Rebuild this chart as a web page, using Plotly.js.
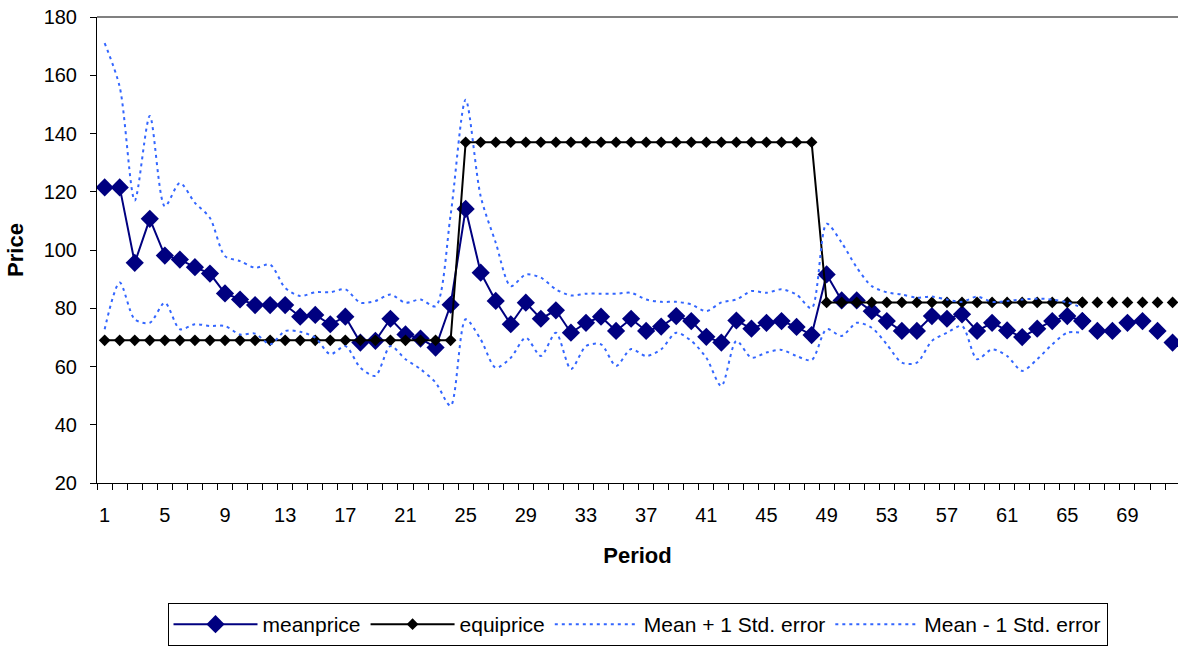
<!DOCTYPE html>
<html>
<head>
<meta charset="utf-8">
<script src="https://cdn.plot.ly/plotly-3.0.1.min.js"></script>
<style>
  html, body { margin: 0; padding: 0; background: #fff; }
  #chart { width: 1178px; height: 646px; }
</style>
</head>
<body>
<div id="chart"></div>
<script>
// Period numbers
const periods = [1,2,3,4,5,6,7,8,9,10,11,12,13,14,15,16,17,18,19,20,21,22,23,24,
  25,26,27,28,29,30,31,32,33,34,35,36,37,38,39,40,41,42,43,44,45,46,47,48,
  49,50,51,52,53,54,55,56,57,58,59,60,61,62,63,64,65,66,67,68,69,70,71,72];

// Mean market price per period
const meanprice = [121.5,121.5,95.6,110.7,98.1,96.7,94.1,91.9,85.1,83,
  81.1,81.1,81.1,77.1,77.7,74.5,77.1,68.2,68.8,76.4,
  71,69.6,66.5,81.2,114.1,92.2,82.5,74.5,81.9,76.4,
  79.3,71.6,75,77.1,72.2,76.4,72.2,73.7,77.3,75.6,
  70.2,68.2,75.8,73,75,75.6,73.6,70.8,91.6,82.7,
  82.7,79,75.6,72.2,72.2,77.3,76.4,77.9,72.2,75,
  72.4,70.1,73,75.6,77.3,75.6,72.2,72.2,75,75.6,
  72.2,68.2];

// Equilibrium price per period
const equiprice = [69,69,69,69,69,69,69,69,69,69,69,69,69,69,69,69,69,69,69,69,69,69,69,69,
  137,137,137,137,137,137,137,137,137,137,137,137,137,137,137,137,137,137,137,137,137,137,137,137,
  82,82,82,82,82,82,82,82,82,82,82,82,82,82,82,82,82,82,82,82,82,82,82,82];

// Mean + 1 standard error (periods 1-66)
const upperSE = [171,156,117,146,115,123,116.2,111,97.9,96.2,
  93.9,95,87,84.2,85.5,85.5,86.5,81.9,82.5,84.7,
  81.9,83,80.7,112,151.6,118.4,102.5,87.6,91.6,90.5,
  86.5,84.4,85,85,85,85.3,83,82.2,82.2,81.3,
  79,82,83,85.9,85.3,86.5,84.7,80,109,102.5,
  94,87.6,85.5,84.7,83.6,84,83,82.2,84,82.2,
  82.5,83,83.3,83,82,80.2];

// Mean - 1 standard error (periods 1-66)
const lowerSE = [72.8,88.8,76.2,75,81.9,72.8,74.5,73.9,73.9,71,
  71.3,67.6,72.2,71.9,69.9,64.2,67,59.6,56.8,67,
  62.5,59.1,54.5,46.5,76.2,69.3,59.6,63,69.9,63.6,
  71.6,59.1,67,67.6,60.2,66,63.6,65.9,71.6,68.8,
  63,53.3,68.8,63,64.8,65.7,63.6,62.2,72.8,70.5,
  75,73.3,67.6,61.3,61.3,68.8,71.6,73.9,62.5,65.9,
  63.6,58.5,62.5,67.6,71.6,71.6];

// Connected lines run through period 66; later periods are markers only
const nLine = 66;
const xLine = periods.slice(0, nLine);
const xTail = periods.slice(nLine - 1);

const yTickVals = [20,40,60,80,100,120,140,160,180];
const xTickVals = [1,5,9,13,17,21,25,29,33,37,41,45,49,53,57,61,65,69];

const navy = '#000080';
const blue = '#3366FF';
const font = 'Liberation Sans, Arial, sans-serif';

const traces = [
  {
    name: 'meanprice', x: xLine, y: meanprice.slice(0, nLine),
    mode: 'lines+markers', type: 'scatter',
    line: {color: navy, width: 2},
    marker: {symbol: 'diamond', size: 14, color: navy}
  },
  {
    name: 'equiprice', x: xLine, y: equiprice.slice(0, nLine),
    mode: 'lines+markers', type: 'scatter',
    line: {color: '#000000', width: 2},
    marker: {symbol: 'diamond', size: 9, color: '#000000'}
  },
  {
    name: 'Mean + 1 Std. error', x: xLine, y: upperSE,
    mode: 'lines', type: 'scatter',
    line: {color: blue, width: 2, dash: '3px,4px', shape: 'spline', smoothing: 0.8}
  },
  {
    name: 'Mean - 1 Std. error', x: xLine, y: lowerSE,
    mode: 'lines', type: 'scatter',
    line: {color: blue, width: 2, dash: '3px,4px', shape: 'spline', smoothing: 0.8}
  },
  {
    name: 'meanprice', x: xTail, y: meanprice.slice(nLine - 1),
    mode: 'markers', type: 'scatter', showlegend: false,
    marker: {symbol: 'diamond', size: 14, color: navy}
  },
  {
    name: 'equiprice', x: xTail, y: equiprice.slice(nLine - 1),
    mode: 'markers', type: 'scatter', showlegend: false,
    marker: {symbol: 'diamond', size: 9, color: '#000000'}
  }
];

const layout = {
  width: 1178, height: 646,
  margin: {l: 97, r: 0, t: 17, b: 162},
  paper_bgcolor: '#ffffff', plot_bgcolor: '#ffffff',
  font: {family: font, size: 20, color: '#000000'},
  showlegend: true,
  legend: {
    orientation: 'h', x: 0.5, xanchor: 'center', y: -0.257, yanchor: 'top',
    bordercolor: '#000000', borderwidth: 1, bgcolor: '#ffffff',
    font: {family: font, size: 21}, traceorder: 'normal', itemwidth: 84
  },
  xaxis: {
    range: [0.49, 72.36], tickvals: xTickVals, ticktext: xTickVals.map(String),
    ticks: '', showgrid: false, zeroline: false,
    showline: true, linecolor: '#000000', linewidth: 1,
    ticklabelstandoff: 14,
    minor: {tick0: 0.5, dtick: 1, ticks: 'outside', ticklen: 6, tickcolor: '#000000', showgrid: false},
    title: {text: 'Period', font: {family: font, size: 22, weight: 'bold'}, standoff: 22}
  },
  yaxis: {
    range: [20, 180], tickvals: yTickVals, ticks: 'outside', ticklen: 6,
    tickcolor: '#000000', showgrid: false, zeroline: false,
    showline: true, linecolor: '#000000', linewidth: 1,
    ticklabelstandoff: 9,
    title: {text: 'Price', font: {family: font, size: 22, weight: 'bold'}, standoff: 13}
  },
  shapes: [
    {type: 'line', xref: 'paper', yref: 'paper', x0: 0, x1: 1, y0: 1, y1: 1,
     line: {color: '#808080', width: 2}}
  ]
};

Plotly.newPlot('chart', traces, layout, {displayModeBar: false, staticPlot: true});
</script>
</body>
</html>
